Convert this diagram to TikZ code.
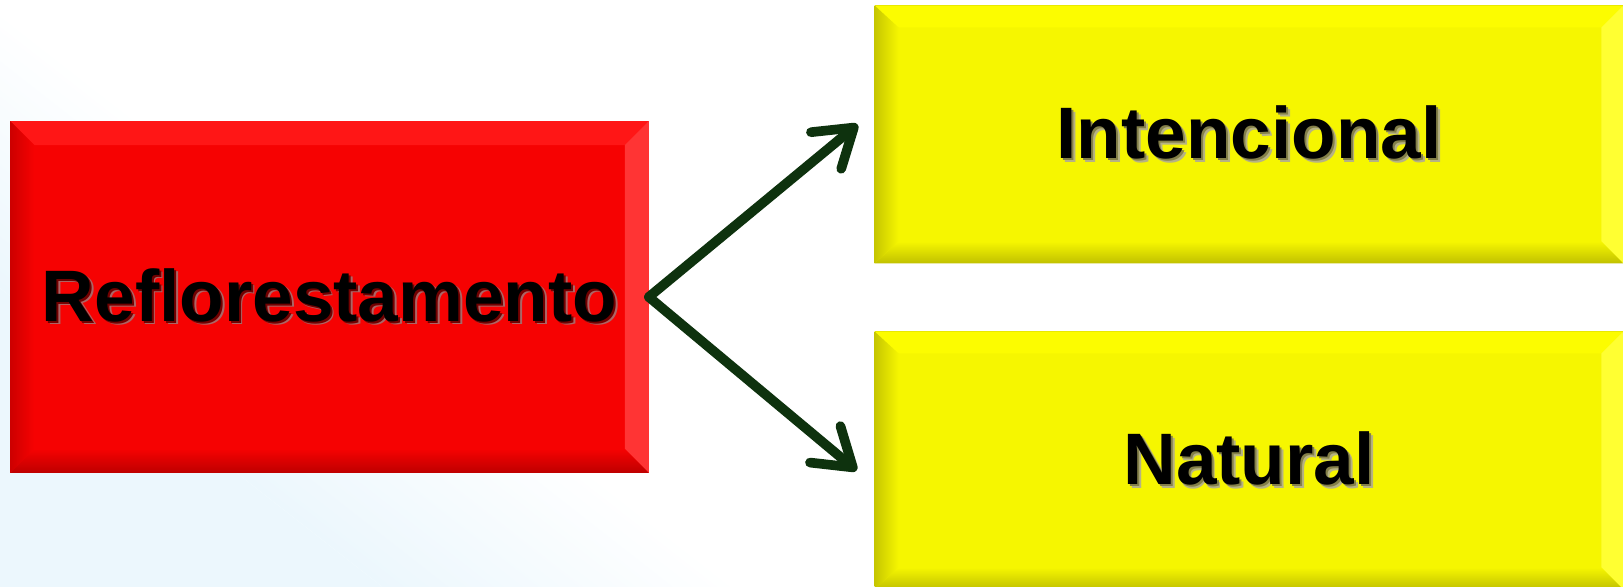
\documentclass[tikz,border=0pt]{standalone}
\usepackage{fontspec}
\setmainfont{Liberation Sans}
\usetikzlibrary{calc,arrows.meta}

\definecolor{bgblue}{RGB}{236,247,253}
\definecolor{redmain}{RGB}{246,2,2}
\definecolor{redtop}{RGB}{255,22,22}
\definecolor{redlight}{RGB}{255,52,52}
\definecolor{reddark}{RGB}{205,0,0}
\definecolor{redbot}{RGB}{190,0,0}
\definecolor{yelmain}{RGB}{246,246,0}
\definecolor{yeltop}{RGB}{252,252,0}
\definecolor{yellight}{RGB}{255,255,50}
\definecolor{yeldark}{RGB}{198,198,0}
\definecolor{yelbot}{RGB}{192,192,0}
\definecolor{arrgreen}{RGB}{14,50,14}

\newcommand\shadowed[2]{\makebox[0pt][l]{\hspace{2.2pt}\raisebox{-2.2pt}{\textcolor{#1!60}{#2}}}\makebox[0pt][l]{\hspace{1.2pt}\raisebox{-1.2pt}{\textcolor{#1}{#2}}}#2}

\begin{document}
\begin{tikzpicture}[x=0.02cm,y=-0.02cm,
    boxtext/.style={font=\bfseries\fontsize{41.5}{48}\selectfont,inner sep=0pt},
    redbox/.style={boxtext,fill=redmain,draw=redlight,line width=1pt,minimum width=12.74cm,minimum height=7cm},
    yelbox/.style={boxtext,fill=yelmain,draw=yeldark,line width=0.6pt,minimum width=14.96cm,minimum height=5.14cm},
    arr/.style={draw=arrgreen,line width=5.5pt,line cap=round,-{Straight Barb[round,length=0.72cm,width=0.95cm]}}]
    \useasboundingbox (0,0) rectangle (1623,587);

    % background
    \begin{scope}
        \clip (0,0) rectangle (1623,587);
        \begin{scope}[transform canvas={rotate around={52:(370,298)}}]
            \fill[bgblue] (-3000,-3000) rectangle (150,3600);
            \shade[left color=bgblue,right color=white] (150,-3000) rectangle (370,3600);
        \end{scope}
    \end{scope}

    % boxes
    \node[redbox] (refl) at (329.5,297) {\shadowed{red!45!black}{Reflorestamento}};
    \node[yelbox] (inten) at (1249,134.5) {\shadowed{yellow!45!black}{Intencional}};
    \node[yelbox] (natur) at (1249,460.5) {\shadowed{yellow!45!black}{Natural}};

    % bevels
    \fill[redtop] (refl.north west) -- (refl.north east) -- ($(refl.north east)+(-24,24)$) -- ($(refl.north west)+(24,24)$) -- cycle;
    \fill[redlight] (refl.north east) -- (refl.south east) -- ($(refl.south east)+(-24,-24)$) -- ($(refl.north east)+(-24,24)$) -- cycle;
    \shade[left color=reddark,right color=redmain] (refl.north west) -- ($(refl.north west)+(24,24)$) -- ($(refl.south west)+(24,-24)$) -- (refl.south west) -- cycle;
    \shade[top color=redmain,bottom color=redbot] (refl.south west) -- ($(refl.south west)+(24,-24)$) -- ($(refl.south east)+(-24,-24)$) -- (refl.south east) -- cycle;
    \foreach \b in {inten,natur} {
        \fill[yeltop] (\b.north west) -- (\b.north east) -- ($(\b.north east)+(-22,22)$) -- ($(\b.north west)+(24,22)$) -- cycle;
        \fill[yellight] (\b.north east) -- (\b.south east) -- ($(\b.south east)+(-22,-22)$) -- ($(\b.north east)+(-22,22)$) -- cycle;
        \shade[left color=yeldark,right color=yelmain] (\b.north west) -- ($(\b.north west)+(24,22)$) -- ($(\b.south west)+(24,-22)$) -- (\b.south west) -- cycle;
        \shade[top color=yelmain,bottom color=yelbot] (\b.south west) -- ($(\b.south west)+(24,-22)$) -- ($(\b.south east)+(-22,-22)$) -- (\b.south east) -- cycle;
    }

    % arrows
    \draw[arr] (refl.east) -- ($(inten.west)+(-17,-10)$);
    \draw[arr] (refl.east) -- ($(natur.west)+(-18,10)$);
\end{tikzpicture}
\end{document}
